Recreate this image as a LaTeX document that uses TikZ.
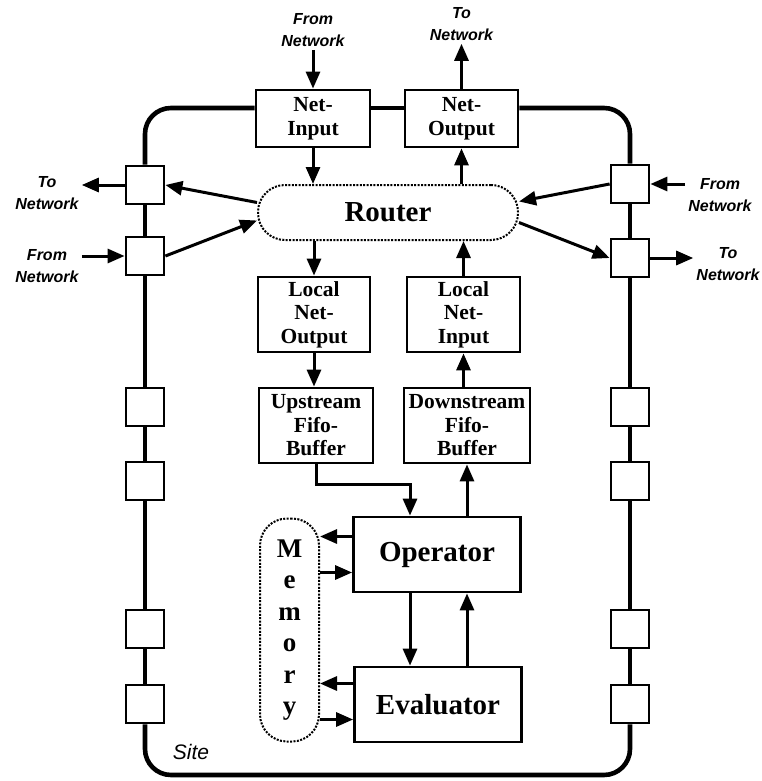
\documentclass[tikz,border=0pt]{standalone}
\usepackage{fontspec}
\setmainfont{Liberation Serif}
\setsansfont{Liberation Sans}
\usepackage{tikz}
\usetikzlibrary{arrows.meta}
\usetikzlibrary{calc}

\tikzset{
  unit/.style={draw, line width=2.8pt, fill=white, inner sep=0pt, align=center,
    font=\fontsize{21.5}{23.5}\selectfont\bfseries},
  bigunit/.style={unit, minimum width=167pt, minimum height=75pt,
    font=\fontsize{29}{30}\selectfont\bfseries},
  port/.style={draw, line width=2.8pt, fill=white, minimum width=38pt,
    minimum height=38pt, inner sep=0pt},
  cloud/.style={draw, line width=2pt, dash pattern=on 2pt off 1.4pt,
    inner sep=0pt, align=center},
  netlabel/.style={inner sep=3pt, align=center,
    font=\fontsize{16}{22}\selectfont\sffamily\bfseries\itshape},
  arr/.style={line width=3pt, -{Triangle[length=17pt,width=14pt]}},
  ring/.style={line width=4.6pt, rounded corners=26pt},
}

\begin{document}
\begin{tikzpicture}[x=1pt, y=-1pt]
            \useasboundingbox (0,0) rectangle (761,781);

            % Nodes
            \node[unit, minimum width=114pt, minimum height=57pt] (netin) at (313,118.5) {Net-\\Input};
            \node[unit, minimum width=113pt, minimum height=57pt] (netout) at (461.5,118.5) {Net-\\Output};
            \node[cloud, minimum width=260pt, minimum height=55pt, rounded corners=27pt,
              font=\fontsize{29}{30}\selectfont\bfseries] (router) at (388,212.5) {Router};
            \node[unit, minimum width=112pt, minimum height=75pt] (lno) at (314,314.5) {Local\\Net-\\Output};
            \node[unit, minimum width=113pt, minimum height=75pt] (lni) at (463.5,314.5) {Local\\Net-\\Input};
            \node[unit, minimum width=114pt, minimum height=75pt] (up) at (316,425.5) {Upstream\\Fifo-\\Buffer};
            \node[unit, minimum width=126pt, minimum height=75pt] (down) at (467,425.5) {Downstream\\Fifo-\\Buffer};
            \node[bigunit] (op) at (437,554.5) {Operator};
            \node[bigunit] (ev) at (438,704.5) {Evaluator};
            \node[cloud, minimum width=59pt, minimum height=223pt, rounded corners=27pt,
              font=\fontsize{27}{31.5}\selectfont\bfseries] (mem) at (289.5,630) {M\\e\\m\\o\\r\\y};

            \foreach \y [count=\i] in {185,256,407,481,629,704}
              \node[port] (lb\i) at (145,\y) {};
            \foreach \y [count=\i] in {184,258,407,481,629,704}
              \node[port] (rb\i) at (630,\y) {};

            \node[netlabel] (fromtop) at (313,30) {From\\Network};
            \node[netlabel] (totop) at (461.5,24) {To\\Network};
            \node[netlabel] (tol) at (47,193) {To\\Network};
            \node[netlabel] (froml) at (47,266) {From\\Network};
            \node[netlabel] (fromr) at (720,195) {From\\Network};
            \node[netlabel] (tor) at (728,264) {To\\Network};
            \node[font=\fontsize{21}{21}\selectfont\sffamily\itshape] (site) at (191,752) {Site};

            \coordinate (xl) at ($(op.north)+(-27,0)$);
            \coordinate (xr) at ($(op.north)+(30,0)$);
            \coordinate (m1) at ($(op.west)+(0,-18)$);
            \coordinate (m2) at ($(op.west)+(0,18)$);
            \coordinate (m3) at ($(ev.west)+(0,-21)$);
            \coordinate (m4) at ($(ev.west)+(0,15)$);
            \coordinate (sitebot) at (388,775);

            % Site ring
            \draw[ring] ($(netin.west)+(0,-10.5)$) -| (lb1.north);
            \draw[ring] ($(netin.east)+(0,-10.5)$) -- ($(netout.west)+(0,-10.5)$);
            \draw[ring] ($(netout.east)+(0,-10.5)$) -| (rb1.north);
            \foreach \i/\j in {1/2,2/3,3/4,4/5,5/6} {
              \draw[ring] (lb\i.south) -- (lb\j.north);
              \draw[ring] (rb\i.south) -- (rb\j.north);
            }
            \draw[ring] (lb6.south) |- (sitebot) -| (rb6.south);

            % Lines
            \draw[arr] (fromtop.south) -- (netin.north);
            \draw[arr] (netout.north) -- (totop.south);
            \draw[arr] (lb1.west) -- (lb1.west -| tol.east);
            \draw[arr] (froml.east |- lb2.west) -- (lb2.west);
            \draw[arr] (fromr.west |- rb1.east) -- (rb1.east);
            \draw[arr] (rb2.east) -- (rb2.east -| tor.west);
            \draw[arr] ($(router.west)+(0,-10)$) -- (lb1.east);
            \draw[arr] (lb2.east) -- ($(router.west)+(0,8)$);
            \draw[arr] (rb1.west) -- ($(router.east)+(0,-11)$);
            \draw[arr] ($(router.east)+(0,10)$) -- (rb2.west);
            \draw[arr] (netin.south) -- (netin.south |- router.north);
            \draw[arr] (netout.south |- router.north) -- (netout.south);
            \draw[arr] (lno.north |- router.south) -- (lno.north);
            \draw[arr] (lni.north) -- (lni.north |- router.south);
            \draw[arr] (lno.south) -- (lno.south |- up.north);
            \draw[arr] (lni.south |- down.north) -- (lni.south);
            \draw[arr] (up.south) -- ++(0,20) -| (xl |- op.north);
            \draw[arr] (xr |- op.north) -- (xr |- down.south);
            \draw[arr] (xl |- op.south) -- (xl |- ev.north);
            \draw[arr] (xr |- ev.north) -- (xr |- op.south);
            \draw[arr] (m1) -- (m1 -| mem.east);
            \draw[arr] (m2 -| mem.east) -- (m2);
            \draw[arr] (m3) -- (m3 -| mem.east);
            \draw[arr] (m4 -| mem.east) -- (m4);
        \end{tikzpicture}
\end{document}
